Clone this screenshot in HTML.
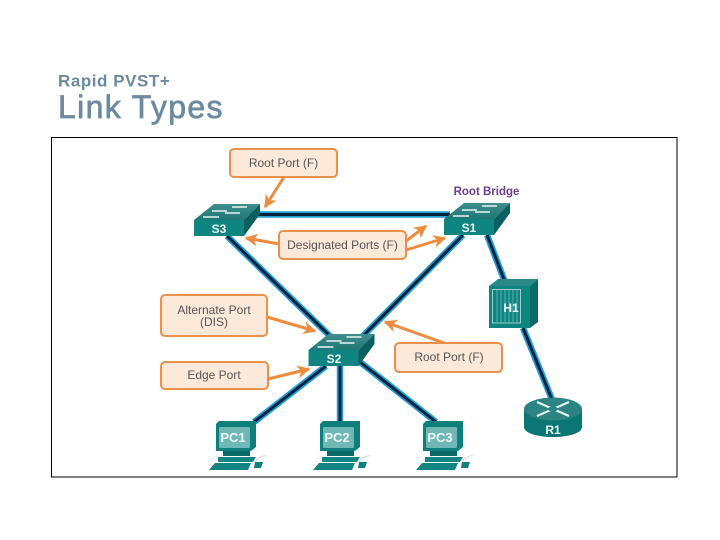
<!DOCTYPE html>
<html><head><meta charset="utf-8"><style>
html,body{margin:0;padding:0;background:#fff}
svg{display:block}
text{font-family:"Liberation Sans",sans-serif}
.b{fill:#fde9d9;stroke:#e8914a;stroke-width:2}
.l{font-size:12px;fill:#555;text-anchor:middle}
.d{font-weight:bold;font-size:12px;fill:#eef8f8;text-anchor:middle}
</style></head><body>
<svg width="720" height="540" viewBox="0 0 720 540" xmlns="http://www.w3.org/2000/svg">
<defs>
<linearGradient id="t" x1="0" y1="0" x2="0" y2="1"><stop offset="0" stop-color="#3f8f8d"/><stop offset="1" stop-color="#1f7775"/></linearGradient>
<g id="sw">
<polygon points="0,16 20,0 66,0 50,16" fill="url(#t)"/>
<rect x="0" y="16" width="50" height="16" fill="#0f8582"/>
<polygon points="50,16 66,0 66,10 50,32" fill="#0a5f60"/>
<g stroke="#e6f5f5" stroke-width="1.500" fill="none">
<path d="M18,7H33M31,9H46M9,13H25M38,3H53"/>
</g>
</g>
<g id="pc">
<polygon points="0,3 3,0 40,0 40,26 35,30 0,30" fill="#0f7f7c"/>
<rect x="3" y="6" width="31" height="21" rx="1.500" fill="#6fb8b6"/>
<rect x="7" y="30" width="27" height="5" fill="#0a6a68"/>
<polygon points="2,36 40,36 37,41 2,41" fill="#128583"/>
<polygon points="-1,42 35,42 32,49 -7,49" fill="#128583"/>
<polygon points="39,41 47,41 45,47 38,47" fill="#127f7d"/>
<path d="M39,41Q44,34 50,35" fill="none" stroke="#ccc" stroke-width=".8"/>
</g>
<marker id="a" viewBox="0 0 10 10" refX="9" refY="5" markerWidth="15" markerHeight="13" markerUnits="userSpaceOnUse" orient="auto"><path d="M0,0L10,5L0,10L3,5Z" fill="#ed8c3f"/></marker>
</defs>
<text x="58" y="86.500" font-size="17" font-weight="bold" letter-spacing=".55" fill="#6c8aa0">Rapid PVST+</text>
<text x="58" y="118" font-size="32" letter-spacing="1.350" stroke="#6c8aa0" stroke-width=".7" fill="#6c8aa0">Link Types</text>
<rect x="51.500" y="137.500" width="625.500" height="339.500" fill="#fff" stroke="#000" stroke-width="1"/>

<g fill="none" stroke="#1f9fd8" stroke-width="6.500">
<path d="M250,214.500H450M227,236L332,338M463,235L362,337M487,235L505,282M523,328L553,402M326,366L254,422M340,366V421M360,362L436,422"/>
</g>
<g fill="none" stroke="#06223a" stroke-width="3">
<path d="M250,214.500H450M227,236L332,338M463,235L362,337M487,235L505,282M523,328L553,402M326,366L254,422M340,366V421M360,362L436,422"/>
</g>

<use href="#sw" x="194" y="204"/>
<use href="#sw" x="444" y="203"/>
<use href="#sw" x="308.500" y="334"/>
<text class="d" x="219" y="233">S3</text>
<text class="d" x="469" y="232">S1</text>
<text class="d" x="334" y="363">S2</text>

<polygon points="489,286 498,279 538,279 530,286" fill="#2b8a88"/>
<rect x="489" y="286" width="41" height="42" fill="#0f8582"/>
<polygon points="530,286 538,279 538,322 530,328" fill="#0a6a6a"/>
<rect x="492.500" y="289.500" width="28" height="33.500" fill="none" stroke="#9dd0cf" stroke-width="1"/>
<path d="M497,290V322M501,290V322M505,290V322M509,290V322M513,290V322M517,290V322" stroke="#7cc0be" stroke-width=".7"/>
<text class="d" x="511" y="312">H1</text>

<path d="M524,409V427C524,433 537,437 553,437C569,437 582,433 582,427V409Z" fill="#0c7674"/>
<ellipse cx="553" cy="409" rx="29" ry="11.500" fill="#2b8482"/>
<path d="M537,402L569,416M569,402L537,416" stroke="#e3f2f2" stroke-width="2.200"/>
<ellipse cx="553" cy="409" rx="5" ry="2.500" fill="#2b8482"/>
<text class="d" x="553" y="434">R1</text>

<use href="#pc" x="216" y="421"/>
<use href="#pc" x="320" y="421"/>
<use href="#pc" x="423" y="421"/>
<text class="d" x="233" y="442" style="font-size:13px">PC1</text>
<text class="d" x="337" y="442" style="font-size:13px">PC2</text>
<text class="d" x="440" y="442" style="font-size:13px">PC3</text>

<g stroke="#ed8c3f" stroke-width="3" fill="none">
<line x1="284" y1="177" x2="265" y2="207" marker-end="url(#a)"/>
<line x1="279" y1="244" x2="246" y2="238" marker-end="url(#a)"/>
<line x1="406" y1="241" x2="426" y2="226" marker-end="url(#a)"/>
<line x1="406" y1="250" x2="445" y2="238" marker-end="url(#a)"/>
<line x1="267" y1="317" x2="315" y2="331" marker-end="url(#a)"/>
<line x1="268" y1="379" x2="309" y2="369" marker-end="url(#a)"/>
<line x1="447" y1="344" x2="385" y2="322" marker-end="url(#a)"/>
</g>

<rect class="b" x="230" y="149" width="107" height="28" rx="4"/>
<rect class="b" x="279" y="231" width="127" height="28" rx="4"/>
<rect class="b" x="161" y="295" width="106" height="41" rx="4"/>
<rect class="b" x="161" y="362" width="107" height="27" rx="4"/>
<rect class="b" x="395" y="343" width="107" height="29" rx="4"/>
<text class="l" x="283.500" y="167">Root Port (F)</text>
<text class="l" x="342.500" y="249">Designated Ports (F)</text>
<text class="l" x="214" y="314">Alternate Port</text>
<text class="l" x="214" y="326">(DIS)</text>
<text class="l" x="214" y="379">Edge Port</text>
<text class="l" x="449" y="361">Root Port (F)</text>
<text x="486.500" y="195" font-size="11.500" font-weight="bold" fill="#6b3f93" text-anchor="middle">Root Bridge</text>
</svg>
</body></html>
